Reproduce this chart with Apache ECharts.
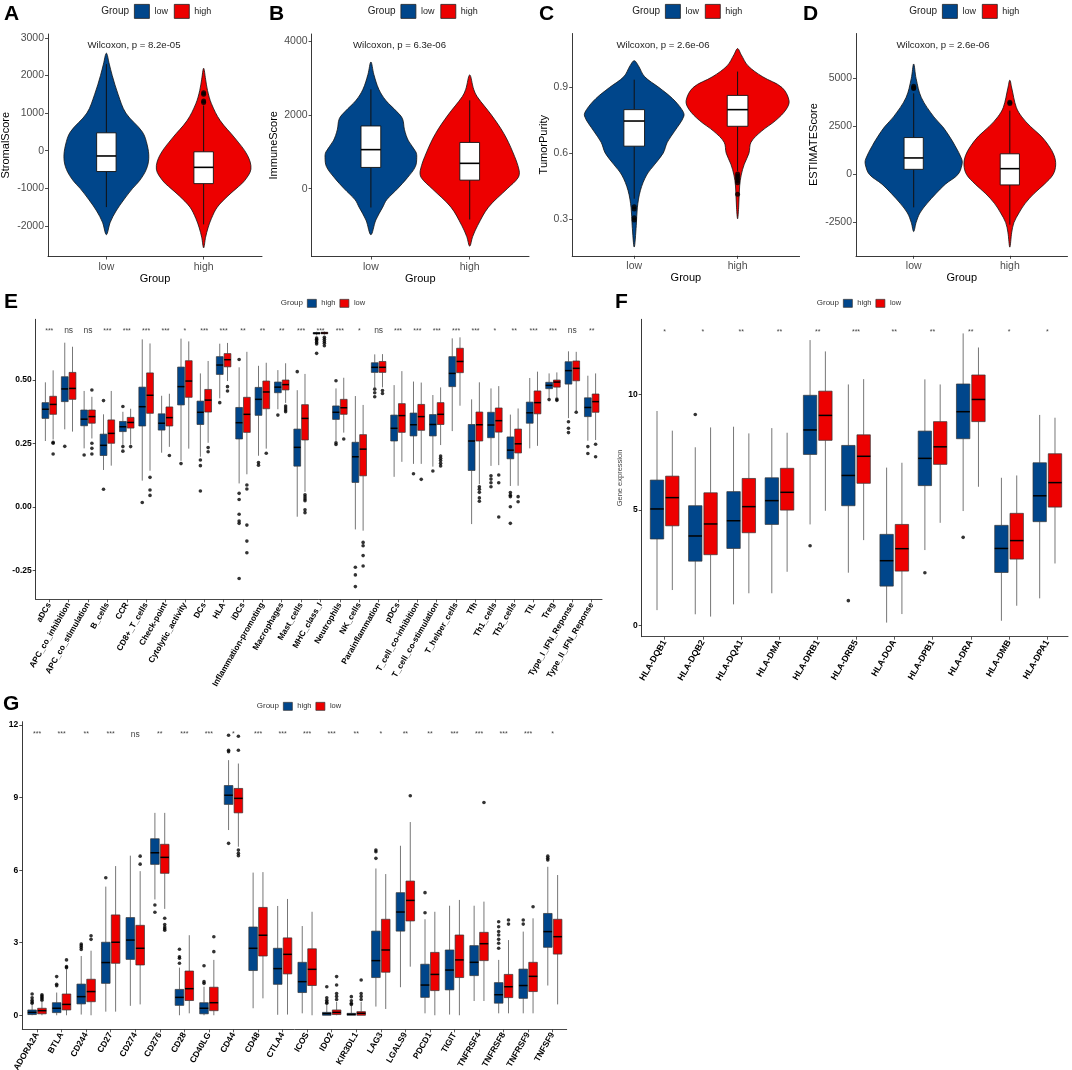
<!DOCTYPE html>
<html>
<head>
<meta charset="utf-8">
<script src="https://cdn.jsdelivr.net/npm/echarts@6/dist/echarts.min.js"></script>
<style>
  body { margin: 0; background: #fff; width: 1072px; height: 1070px; overflow: hidden; }
</style>
</head>
<body>
<script>
const FONT = '"Liberation Sans", Arial, Helvetica, sans-serif'
const BLUE = '#00468B'
const RED = '#ED0000'

// ---------- A-D violin data ----------
const violinGroups = ['low', 'high']

// density outline: [value, half width]
const stromalLowShape = [[2590, 0], [2300, 0.03], [2000, 0.06], [1500, 0.12], [1000, 0.2], [500, 0.37], [150, 0.42], [-200, 0.436], [-500, 0.41], [-800, 0.34], [-1000, 0.27], [-1300, 0.18], [-1600, 0.1], [-1900, 0.04], [-2230, 0]]
const stromalHighShape = [[2190, 0], [1900, 0.02], [1600, 0.04], [1250, 0.08], [800, 0.17], [340, 0.32], [-120, 0.45], [-490, 0.486], [-800, 0.42], [-950, 0.36], [-1200, 0.25], [-1500, 0.14], [-1800, 0.08], [-2050, 0.045], [-2300, 0.02], [-2580, 0]]
const stromalBox = [[-1498, -553, -140, 475, 2300], [-1957, -874, -442, -29, 1200]]
const stromalOut = [[], [1540, 1500, 1320, 1280]]

const immuneLowShape = [[3440, 0], [3100, 0.03], [2700, 0.08], [2400, 0.15], [2100, 0.26], [1900, 0.32], [1600, 0.34], [1300, 0.38], [1000, 0.455], [850, 0.464], [600, 0.45], [300, 0.37], [0, 0.27], [-300, 0.16], [-500, 0.12], [-850, 0.05], [-1250, 0]]
const immuneHighShape = [[3090, 0], [2700, 0.04], [2500, 0.075], [2000, 0.22], [1500, 0.345], [1000, 0.435], [500, 0.5], [300, 0.49], [0, 0.38], [-500, 0.19], [-1000, 0.08], [-1300, 0.03], [-1560, 0]]
const immuneBox = [[-510, 578, 1061, 1703, 2698], [-836, 233, 689, 1256, 2400]]
const immuneOut = [[], []]

const purityLowShape = [[1.023, 0], [1.0, 0.04], [0.95, 0.1], [0.9, 0.24], [0.85, 0.37], [0.8, 0.46], [0.77, 0.481], [0.7, 0.39], [0.65, 0.32], [0.6, 0.28], [0.55, 0.2], [0.5, 0.12], [0.43, 0.06], [0.35, 0.03], [0.27, 0.02], [0.171, 0]]
const purityHighShape = [[1.078, 0], [1.05, 0.035], [1.0, 0.1], [0.95, 0.24], [0.9, 0.43], [0.84, 0.498], [0.8, 0.47], [0.75, 0.37], [0.7, 0.23], [0.65, 0.13], [0.6, 0.11], [0.55, 0.065], [0.5, 0.035], [0.45, 0.02], [0.35, 0.01], [0.3, 0]]
const purityBox = [[0.392, 0.632, 0.747, 0.799, 0.936], [0.518, 0.723, 0.799, 0.864, 0.973]]
const purityOut = [[0.355, 0.345, 0.305, 0.295], [0.505, 0.495, 0.485, 0.475, 0.465, 0.412]]

const estimateLowShape = [[5755, 0], [5000, 0.025], [4000, 0.08], [3000, 0.21], [2500, 0.3], [2000, 0.37], [1500, 0.43], [800, 0.5], [500, 0.502], [0, 0.46], [-500, 0.33], [-1000, 0.23], [-1500, 0.14], [-2000, 0.065], [-2500, 0.025], [-2970, 0]]
const estimateHighShape = [[4910, 0], [4500, 0.02], [3500, 0.067], [3000, 0.125], [2500, 0.215], [2000, 0.325], [1500, 0.405], [1000, 0.46], [500, 0.477], [0, 0.45], [-500, 0.36], [-1000, 0.25], [-1500, 0.16], [-2000, 0.095], [-2500, 0.043], [-3000, 0.02], [-3780, 0]]
const estimateBox = [[-1710, 270, 863, 1924, 4226], [-2610, -541, 305, 1078, 3327]]
const estimateOut = [[4600, 4520, 4480], [3760, 3700]]

const stromalTicks = [-2000, -1000, 0, 1000, 2000, 3000]
const immuneTicks = [0, 2000, 4000]
const purityTicks = [0.3, 0.6, 0.9]
const estimateTicks = [-2500, 0, 2500, 5000]

// ---------- E immune cell enrichment ----------
const eCats = ['aDCs', 'APC_co_inhibition', 'APC_co_stimulation', 'B_cells', 'CCR', 'CD8+_T_cells', 'Check-point', 'Cytolytic_activity', 'DCs', 'HLA', 'iDCs', 'Inflammation-promoting', 'Macrophages', 'Mast_cells', 'MHC_class_I', 'Neutrophils', 'NK_cells', 'Parainflammation', 'pDCs', 'T_cell_co-inhibition', 'T_cell_co-stimulation', 'T_helper_cells', 'Tfh', 'Th1_cells', 'Th2_cells', 'TIL', 'Treg', 'Type_I_IFN_Reponse', 'Type_II_IFN_Reponse']
// [lower whisker, Q1, median, Q3, upper whisker]
const eHigh = [
  [0.26, 0.349, 0.385, 0.411, 0.491], [0.306, 0.415, 0.465, 0.513, 0.647], [0.231, 0.32, 0.346, 0.382, 0.457], [0.146, 0.203, 0.243, 0.287, 0.365],
  [0.245, 0.297, 0.316, 0.337, 0.375], [0.104, 0.319, 0.395, 0.472, 0.66], [0.214, 0.303, 0.33, 0.367, 0.438], [0.182, 0.402, 0.474, 0.551, 0.663],
  [0.198, 0.325, 0.373, 0.417, 0.526], [0.428, 0.522, 0.559, 0.592, 0.643], [0.093, 0.268, 0.332, 0.392, 0.55], [0.202, 0.361, 0.424, 0.471, 0.556],
  [0.385, 0.45, 0.472, 0.492, 0.539], [-0.038, 0.161, 0.235, 0.307, 0.46], [0.676, 0.681, 0.684, 0.687, 0.69], [0.26, 0.345, 0.373, 0.398, 0.467],
  [-0.088, 0.097, 0.198, 0.255, 0.437], [0.471, 0.53, 0.55, 0.568, 0.601], [0.119, 0.26, 0.31, 0.362, 0.48], [0.17, 0.28, 0.324, 0.37, 0.494],
  [0.159, 0.28, 0.325, 0.364, 0.441], [0.299, 0.474, 0.526, 0.592, 0.664], [-0.067, 0.144, 0.26, 0.325, 0.424], [0.162, 0.273, 0.323, 0.373, 0.467],
  [0.083, 0.19, 0.224, 0.276, 0.364], [0.231, 0.33, 0.371, 0.413, 0.508], [0.428, 0.466, 0.479, 0.491, 0.526], [0.35, 0.484, 0.537, 0.572, 0.613],
  [0.261, 0.356, 0.392, 0.43, 0.517],
]
const eLow = [
  [0.266, 0.365, 0.404, 0.436, 0.538], [0.297, 0.424, 0.467, 0.53, 0.631], [0.27, 0.33, 0.356, 0.382, 0.434], [0.163, 0.251, 0.29, 0.343, 0.457],
  [0.246, 0.311, 0.333, 0.353, 0.387], [0.143, 0.369, 0.44, 0.528, 0.644], [0.237, 0.319, 0.352, 0.394, 0.446], [0.23, 0.432, 0.496, 0.576, 0.652],
  [0.253, 0.374, 0.421, 0.463, 0.575], [0.496, 0.552, 0.58, 0.604, 0.646], [0.129, 0.294, 0.365, 0.432, 0.611], [0.23, 0.387, 0.453, 0.496, 0.568],
  [0.41, 0.461, 0.482, 0.5, 0.566], [0.06, 0.264, 0.349, 0.403, 0.524], [0.678, 0.682, 0.685, 0.688, 0.691], [0.293, 0.365, 0.391, 0.424, 0.509],
  [-0.093, 0.123, 0.228, 0.285, 0.402], [0.471, 0.53, 0.55, 0.573, 0.602], [0.178, 0.294, 0.36, 0.407, 0.535], [0.17, 0.302, 0.356, 0.404, 0.49],
  [0.244, 0.325, 0.365, 0.411, 0.471], [0.399, 0.529, 0.573, 0.625, 0.668], [0.09, 0.26, 0.324, 0.374, 0.491], [0.165, 0.295, 0.34, 0.39, 0.476],
  [0.084, 0.213, 0.249, 0.307, 0.388], [0.241, 0.367, 0.411, 0.457, 0.533], [0.432, 0.472, 0.492, 0.5, 0.53], [0.376, 0.497, 0.546, 0.575, 0.611],
  [0.264, 0.373, 0.415, 0.445, 0.526],
]
// [category index, value]
const eHighOut = [[1, 0.239], [2, 0.205], [3, 0.419], [3, 0.07], [4, 0.396], [4, 0.238], [4, 0.22], [5, 0.018], [7, 0.171], [8, 0.185], [8, 0.163], [8, 0.063], [9, 0.411],
  [10, 0.581], [10, 0.054], [10, 0.03], [10, -0.028], [10, -0.055], [10, -0.064], [10, -0.281], [11, 0.175], [11, 0.165], [12, 0.362], [13, 0.533],
  [14, 0.665], [14, 0.66], [14, 0.655], [14, 0.648], [14, 0.642], [14, 0.605], [15, 0.497], [15, 0.253], [15, 0.246], [16, -0.237], [16, -0.267], [16, -0.313],
  [17, 0.464], [17, 0.45], [17, 0.434], [19, 0.131], [20, 0.142], [23, 0.123], [23, 0.11], [23, 0.096], [23, 0.08], [24, 0.057], [24, 0.047], [24, 0.041],
  [24, 0.001], [24, -0.064], [26, 0.423], [27, 0.336], [27, 0.31], [27, 0.293], [28, 0.238], [28, 0.211]]
const eLowOut = [[0, 0.255], [0, 0.251], [0, 0.209], [2, 0.461], [2, 0.251], [2, 0.231], [2, 0.209], [4, 0.238], [5, 0.117], [5, 0.067], [5, 0.046], [6, 0.203],
  [8, 0.234], [8, 0.218], [9, 0.474], [9, 0.457], [10, 0.087], [10, 0.071], [10, -0.071], [10, -0.134], [10, -0.18], [11, 0.212], [12, 0.398], [12, 0.39],
  [12, 0.382], [12, 0.375], [13, 0.048], [13, 0.04], [13, 0.032], [13, 0.025], [13, -0.011], [13, -0.022], [14, 0.668], [14, 0.66], [14, 0.652], [14, 0.645],
  [14, 0.635], [15, 0.268], [16, -0.139], [16, -0.152], [16, -0.191], [16, -0.232], [17, 0.459], [17, 0.447], [19, 0.109], [20, 0.201], [20, 0.192],
  [20, 0.183], [20, 0.172], [20, 0.162], [22, 0.08], [22, 0.07], [22, 0.058], [22, 0.036], [22, 0.023], [23, 0.126], [23, 0.096], [23, -0.039],
  [24, 0.041], [24, 0.021], [26, 0.425], [26, 0.42], [27, 0.373], [28, 0.247], [28, 0.198]]
const eSig = ['***', 'ns', 'ns', '***', '***', '***', '***', '*', '***', '***', '**', '**', '**', '***', '***', '***', '*', 'ns', '***', '***', '***', '***', '***', '*', '**', '***', '***', 'ns', '**']
const eTicks = [-0.25, 0, 0.25, 0.5]

// ---------- F HLA genes ----------
const fCats = ['HLA-DQB1', 'HLA-DQB2', 'HLA-DQA1', 'HLA-DMA', 'HLA-DRB1', 'HLA-DRB5', 'HLA-DOA', 'HLA-DPB1', 'HLA-DRA', 'HLA-DMB', 'HLA-DPA1']
const fHigh = [[0.66, 3.74, 5.04, 6.29, 9.28], [0.48, 2.78, 3.87, 5.18, 7.71], [0.91, 3.33, 4.53, 5.79, 8.6], [1.39, 4.37, 5.4, 6.39, 8.54],
  [4.37, 7.4, 8.46, 9.96, 12.35], [2.28, 5.18, 6.49, 7.79, 10.43], [0.12, 1.7, 2.8, 3.94, 6.83], [3.26, 6.05, 7.23, 8.41, 10.65],
  [4.95, 8.08, 9.25, 10.45, 12.64], [0.2, 2.29, 3.33, 4.33, 6.39], [1.17, 4.49, 5.61, 7.04, 9.11]]
const fLow = [[1.53, 4.31, 5.53, 6.46, 8.43], [0.38, 3.06, 4.39, 5.74, 8.57], [1.39, 4.01, 5.14, 6.36, 8.31], [2.32, 4.99, 5.76, 6.8, 8.34],
  [4.96, 8.01, 9.09, 10.14, 11.86], [3.69, 6.15, 7.32, 8.25, 10.66], [0.49, 2.35, 3.32, 4.37, 7.04], [4.44, 6.97, 7.73, 8.82, 10.43],
  [6.0, 8.82, 9.78, 10.84, 12.03], [0.85, 2.87, 3.67, 4.85, 6.49], [2.68, 5.12, 6.18, 7.43, 8.99]]
const fHighOut = [[1, 9.13], [4, 3.45], [5, 1.07], [7, 2.28], [8, 3.81]]
const fLowOut = []
const fSig = ['*', '*', '**', '**', '**', '***', '**', '**', '**', '*', '*']
const fTicks = [0, 5, 10]

// ---------- G immune checkpoint genes ----------
const gCats = ['ADORA2A', 'BTLA', 'CD244', 'CD27', 'CD274', 'CD276', 'CD28', 'CD40LG', 'CD44', 'CD48', 'CTLA4', 'ICOS', 'IDO2', 'KIR3DL1', 'LAG3', 'LGALS9', 'PDCD1', 'TIGIT', 'TNFRSF4', 'TNFRSF8', 'TNFRSF9', 'TNFSF9']
const gHigh = [[0, 0.03, 0.12, 0.22, 0.45], [0, 0.11, 0.29, 0.52, 0.94], [0.03, 0.47, 0.77, 1.29, 2.45], [0.15, 1.32, 2.18, 3.02, 5.32],
  [0.39, 2.31, 3.11, 4.04, 6.6], [4.79, 6.24, 6.72, 7.3, 8.37], [0, 0.41, 0.74, 1.07, 1.97], [0, 0.06, 0.29, 0.52, 1.18],
  [7.66, 8.72, 9.1, 9.5, 10.55], [0.29, 1.85, 2.77, 3.65, 5.9], [0.02, 1.28, 1.93, 2.77, 4.52], [0.08, 0.94, 1.39, 2.19, 3.69],
  [0, 0, 0.07, 0.12, 0.45], [0, 0, 0.04, 0.08, 0.4], [0.36, 1.56, 2.26, 3.48, 6.07], [1.16, 3.48, 4.27, 5.07, 7.01],
  [0.08, 0.74, 1.25, 2.11, 3.97], [0.03, 1.05, 1.87, 2.7, 4.53], [0.59, 1.64, 2.19, 2.88, 4.53], [0.08, 0.5, 0.85, 1.35, 2.29],
  [0.08, 0.7, 1.23, 1.91, 3.46], [1.23, 2.81, 3.46, 4.21, 6.14]]
const gLow = [[0, 0.06, 0.19, 0.29, 0.55], [0, 0.22, 0.45, 0.88, 1.9], [0, 0.56, 0.98, 1.49, 2.67], [0.15, 2.15, 3.02, 4.15, 6.17],
  [0.45, 2.08, 2.77, 3.72, 5.96], [4.4, 5.87, 6.53, 7.07, 8.37], [0.08, 0.61, 1.1, 1.83, 3.31], [0, 0.19, 0.52, 1.16, 2.29],
  [6.97, 8.37, 8.97, 9.38, 10.41], [0.7, 2.45, 3.31, 4.46, 5.92], [0.03, 1.71, 2.52, 3.2, 4.81], [0, 1.23, 1.9, 2.75, 4.28],
  [0, 0.03, 0.12, 0.22, 0.55], [0, 0, 0.08, 0.15, 0.55], [0.26, 1.78, 2.7, 3.97, 5.84], [2.01, 3.9, 4.75, 5.55, 7.99],
  [0, 1.02, 1.69, 2.6, 4.28], [0, 1.56, 2.29, 3.32, 4.77], [0.59, 2.26, 2.96, 3.43, 4.7], [0.08, 0.73, 1.18, 1.69, 3.11],
  [0.08, 0.98, 1.61, 2.19, 4.01], [0.45, 2.53, 3.25, 3.97, 5.8]]
const gHighOut = [[0, 0.88], [0, 0.72], [0, 0.62], [0, 0.55], [0, 0.5], [1, 1.6], [1, 1.28], [1, 1.22], [2, 2.95], [2, 2.88], [2, 2.8], [2, 2.72],
  [3, 5.69], [5, 4.56], [5, 4.26], [6, 2.73], [6, 2.42], [6, 2.36], [6, 2.15], [7, 2.05], [7, 1.39], [7, 1.32], [8, 11.58], [8, 10.96], [8, 10.9],
  [8, 7.11], [12, 1.18], [12, 0.72], [12, 0.62], [12, 0.55], [12, 0.5], [13, 0.77], [13, 0.6], [13, 0.5], [13, 0.45], [14, 6.83], [14, 6.76],
  [14, 6.49], [16, 5.07], [16, 4.24], [19, 3.87], [19, 3.66], [19, 3.46], [19, 3.32], [19, 3.14], [19, 2.98], [19, 2.77], [20, 3.94], [20, 3.77],
  [21, 6.58], [21, 6.49], [21, 6.42]]
const gLowOut = [[0, 0.85], [0, 0.8], [0, 0.74], [0, 0.68], [0, 0.62], [1, 2.29], [1, 2.01], [1, 1.97], [2, 3.29], [2, 3.14], [4, 6.58], [4, 6.25],
  [5, 4.01], [5, 3.75], [5, 3.65], [5, 3.58], [5, 3.52], [7, 3.25], [7, 2.63], [8, 11.54], [8, 10.96], [8, 6.83], [8, 6.7], [8, 6.6], [12, 1.6],
  [12, 1.25], [12, 0.9], [12, 0.78], [12, 0.65], [13, 1.46], [13, 0.9], [13, 0.78], [13, 0.65], [15, 9.08], [18, 8.8], [19, 3.94], [19, 3.77], [20, 4.49]]
const gSig = ['***', '***', '**', '***', 'ns', '**', '***', '***', '*', '***', '***', '***', '***', '**', '*', '**', '**', '***', '***', '***', '***', '*']
const gTicks = [0, 3, 6, 9, 12]

// ---------- helpers ----------
function fullDiv(id) {
  const el = document.createElement('div')
  el.id = id
  el.style.cssText = 'position:absolute;left:0;top:0;width:1072px;height:1070px;'
  document.body.appendChild(el)
  return el
}

function plainText(text, x, y, style = {}) {
  return {
    type: 'text',
    x,
    y,
    style: {
      text,
      fontFamily: FONT,
      fontSize: 10,
      fill: '#222',
      textAlign: 'left',
      textVerticalAlign: 'middle',
      ...style,
    },
  }
}

function letterText(letter, x, y) {
  return plainText(letter, x, y, { fontSize: 21, fontWeight: 'bold', fill: '#000' })
}

// box + whiskers + median, data item: [x, lo, q1, med, q3, hi]
function boxRender(width, opt) {
  return (params, api) => {
    const x = api.value(0)
    const p = [1, 2, 3, 4, 5].map((d) => api.coord([x, api.value(d)]))
    const half = api.size([width, 0])[0] / 2
    const cx = p[0][0]
    const fill = opt.fill || api.visual('color')
    const line = { stroke: opt.whisker, lineWidth: opt.whiskerWidth }
    return {
      type: 'group',
      children: [
        { type: 'line', shape: { x1: cx, y1: p[0][1], x2: cx, y2: p[1][1] }, style: line },
        { type: 'line', shape: { x1: cx, y1: p[3][1], x2: cx, y2: p[4][1] }, style: line },
        {
          type: 'rect',
          shape: { x: cx - half, y: p[3][1], width: half * 2, height: p[1][1] - p[3][1] },
          style: { fill, stroke: opt.border, lineWidth: opt.borderWidth },
        },
        {
          type: 'line',
          shape: { x1: cx - half, y1: p[2][1], x2: cx + half, y2: p[2][1] },
          style: { stroke: '#000', lineWidth: opt.medianWidth },
        },
      ],
    }
  }
}

function violinRender(shape, x) {
  return (params, api) => {
    const right = shape.map(([v, w]) => api.coord([x + w, v]))
    const left = shape.slice(1, -1).reverse().map(([v, w]) => api.coord([x - w, v]))
    return {
      type: 'polygon',
      shape: { points: right.concat(left), smooth: 0.35 },
      style: { fill: api.visual('color'), stroke: '#111', lineWidth: 0.8 },
    }
  }
}

function valueYAxis(min, max, ticks, name, nameGap, label, nameStyle) {
  return {
    type: 'value',
    min,
    max,
    name,
    nameLocation: 'middle',
    nameGap,
    nameRotate: 90,
    nameTextStyle: { fontFamily: FONT, ...nameStyle },
    axisLine: { show: true, onZero: false, lineStyle: { color: '#222', width: 0.9 } },
    axisTick: { show: true, customValues: ticks, length: 3, lineStyle: { color: '#222', width: 0.8 } },
    axisLabel: { customValues: ticks, margin: 4, fontFamily: FONT, formatter: (v) => String(v), ...label },
    splitLine: { show: false },
  }
}

// ---------- violin panels (A-D) ----------
function violinPanel(id, cfg) {
  const chart = echarts.init(fullDiv(id), null, { renderer: 'canvas' })
  const [gx, gy, gw, gh] = cfg.rect
  const option = {
    backgroundColor: 'transparent',
    animation: false,
    textStyle: { fontFamily: FONT },
    grid: { left: gx, top: gy, width: gw, height: gh, outerBoundsMode: 'none' },
    legend: {
      left: cfg.legendX,
      top: 4,
      padding: 0,
      icon: 'rect',
      itemWidth: 15,
      itemHeight: 14,
      itemGap: 6,
      selectedMode: false,
      itemStyle: { borderColor: '#222', borderWidth: 0.8 },
      textStyle: { fontSize: 9, color: '#222', fontFamily: FONT },
      data: violinGroups,
    },
    graphic: [
      letterText(cfg.letter, cfg.letterX, 14),
      plainText('Group', cfg.legendX - 5, 11, { textAlign: 'right', fontSize: 10 }),
      plainText(cfg.p, cfg.pX, 45, { textAlign: 'center', fontSize: 9.6 }),
    ],
    xAxis: {
      type: 'value',
      min: -0.6,
      max: 1.6,
      name: 'Group',
      nameLocation: 'middle',
      nameGap: 17,
      nameTextStyle: { fontSize: 11, color: '#000', fontFamily: FONT },
      axisLine: { onZero: false, lineStyle: { color: '#222', width: 0.9 } },
      axisTick: { customValues: [0, 1], length: 3, lineStyle: { color: '#222', width: 0.8 } },
      axisLabel: {
        customValues: [0, 1],
        formatter: (v) => violinGroups[Math.round(v)],
        margin: 5,
        fontSize: 10.5,
        color: '#4D4D4D',
        fontFamily: FONT,
      },
      splitLine: { show: false },
    },
    yAxis: valueYAxis(cfg.yMin, cfg.yMax, cfg.ticks, cfg.yName, cfg.nameGap,
      { fontSize: 10.5, color: '#4D4D4D' }, { fontSize: 11, color: '#000' }),
    series: [
      { name: 'low', type: 'custom', itemStyle: { color: BLUE }, renderItem: violinRender(cfg.shapes[0], 0), data: [[0, 0]] },
      { name: 'high', type: 'custom', itemStyle: { color: RED }, renderItem: violinRender(cfg.shapes[1], 1), data: [[1, 0]] },
      {
        name: 'box',
        type: 'custom',
        renderItem: boxRender(0.2, { fill: '#fff', border: '#111', borderWidth: 0.9, whisker: '#111', whiskerWidth: 1, medianWidth: 1.6 }),
        data: cfg.boxes.map((b, i) => [i, ...b]),
        z: 3,
      },
      {
        name: 'outlier',
        type: 'scatter',
        symbolSize: 5,
        itemStyle: { color: '#000' },
        data: cfg.outliers.flatMap((list, i) => list.map((v) => [i, v])),
        z: 4,
      },
    ],
  }
  chart.setOption(option, true)
  return chart
}

// ---------- grouped box panels (E-G) ----------
function boxPanel(id, cfg) {
  const chart = echarts.init(fullDiv(id), null, { renderer: 'canvas' })
  const [gx, gy, gw, gh] = cfg.rect
  const idx = cfg.cats.map((_, i) => i)
  const boxOpt = { border: '#333', borderWidth: 0.7, whisker: '#777', whiskerWidth: 1, medianWidth: 1.5 }
  const option = {
    backgroundColor: 'transparent',
    animation: false,
    textStyle: { fontFamily: FONT },
    grid: { left: gx, top: gy, width: gw, height: gh, outerBoundsMode: 'none' },
    legend: {
      left: cfg.legendX,
      top: cfg.legendY - 4,
      padding: 0,
      icon: 'rect',
      itemWidth: 9,
      itemHeight: 8,
      itemGap: 4,
      selectedMode: false,
      itemStyle: { borderColor: '#333', borderWidth: 0.7 },
      textStyle: { fontSize: 7.5, color: '#333', fontFamily: FONT },
      data: ['high', 'low'],
    },
    graphic: [
      letterText(cfg.letter, cfg.letterX, cfg.letterY),
      plainText('Group', cfg.legendX - 4, cfg.legendY, { textAlign: 'right', fontSize: 8, fill: '#333' }),
    ],
    xAxis: {
      type: 'value',
      min: cfg.xMin,
      max: cfg.xMax,
      axisLine: { onZero: false, lineStyle: { color: '#333', width: 0.9 } },
      axisTick: { customValues: idx, length: 3, lineStyle: { color: '#333', width: 0.8 } },
      axisLabel: {
        customValues: idx,
        formatter: (v) => cfg.cats[Math.round(v)],
        rotate: 60,
        margin: 4,
        fontSize: cfg.xFont,
        fontWeight: 'bold',
        color: '#000',
        fontFamily: FONT,
      },
      splitLine: { show: false },
    },
    yAxis: valueYAxis(cfg.yMin, cfg.yMax, cfg.ticks, cfg.yName, cfg.nameGap,
      { fontSize: 8.5, fontWeight: 'bold', color: '#000', formatter: cfg.tickFormat },
      { fontSize: 7.5, color: '#444' }),
    series: [
      {
        name: 'high',
        type: 'custom',
        itemStyle: { color: BLUE },
        renderItem: boxRender(0.35, boxOpt),
        data: cfg.high.map((b, i) => [i - 0.2, ...b]),
      },
      {
        name: 'low',
        type: 'custom',
        itemStyle: { color: RED },
        renderItem: boxRender(0.35, boxOpt),
        data: cfg.low.map((b, i) => [i + 0.2, ...b]),
      },
      {
        name: 'highOut',
        type: 'scatter',
        symbolSize: 3.6,
        itemStyle: { color: '#000' },
        data: cfg.highOut.map(([i, v]) => [i - 0.2, v]),
      },
      {
        name: 'lowOut',
        type: 'scatter',
        symbolSize: 3.6,
        itemStyle: { color: '#000' },
        data: cfg.lowOut.map(([i, v]) => [i + 0.2, v]),
      },
      {
        name: 'sig',
        type: 'custom',
        renderItem: (params, api) => {
          const pt = api.coord([api.value(0), api.value(1)])
          const s = cfg.sig[params.dataIndex]
          return {
            type: 'text',
            x: pt[0],
            y: pt[1],
            style: {
              text: s,
              fontFamily: FONT,
              fontSize: s === 'ns' ? 8.5 : 7,
              fill: '#444',
              textAlign: 'center',
              textVerticalAlign: 'middle',
            },
          }
        },
        data: cfg.sig.map((s, i) => [i, cfg.sigLevel]),
      },
    ],
  }
  chart.setOption(option, true)
  return chart
}

violinPanel('panelA', {
  letter: 'A', letterX: 4, rect: [48, 34, 214, 222.5], yMin: -2810, yMax: 3100, ticks: stromalTicks,
  yName: 'StromalScore', nameGap: 37, p: 'Wilcoxon, p = 8.2e-05', pX: 134, legendX: 134,
  shapes: [stromalLowShape, stromalHighShape], boxes: stromalBox, outliers: stromalOut,
})
violinPanel('panelB', {
  letter: 'B', letterX: 269, rect: [311.6, 34, 217.4, 222.5], yMin: -1840, yMax: 4200, ticks: immuneTicks,
  yName: 'ImmuneScore', nameGap: 32, p: 'Wilcoxon, p = 6.3e-06', pX: 399.5, legendX: 400.5,
  shapes: [immuneLowShape, immuneHighShape], boxes: immuneBox, outliers: immuneOut,
})
violinPanel('panelC', {
  letter: 'C', letterX: 539, rect: [572.2, 33.5, 227.4, 222.3], yMin: 0.131, yMax: 1.147, ticks: purityTicks,
  yName: 'TumorPurity', nameGap: 23, p: 'Wilcoxon, p = 2.6e-06', pX: 663, legendX: 665,
  shapes: [purityLowShape, purityHighShape], boxes: purityBox, outliers: purityOut,
})
violinPanel('panelD', {
  letter: 'D', letterX: 803, rect: [856, 33.5, 211.5, 222.3], yMin: -4230, yMax: 7340, ticks: estimateTicks,
  yName: 'ESTIMATEScore', nameGap: 37, p: 'Wilcoxon, p = 2.6e-06', pX: 943, legendX: 942,
  shapes: [estimateLowShape, estimateHighShape], boxes: estimateBox, outliers: estimateOut,
})

boxPanel('panelE', {
  letter: 'E', letterX: 4, letterY: 302, rect: [35.7, 319.3, 566.3, 280], xMin: -0.7, xMax: 28.53,
  yMin: -0.363, yMax: 0.739, ticks: eTicks, tickFormat: (v) => v.toFixed(2), yName: 'Enrichment levels', nameGap: 26,
  legendX: 307, legendY: 303, xFont: 8.3, cats: eCats, high: eHigh, low: eLow, highOut: eHighOut, lowOut: eLowOut,
  sig: eSig, sigLevel: 0.693,
})
boxPanel('panelF', {
  letter: 'F', letterX: 615, letterY: 302, rect: [641.7, 319.3, 426.3, 317.4], xMin: -0.6, xMax: 10.54,
  yMin: -0.49, yMax: 13.25, ticks: fTicks, tickFormat: (v) => String(v), yName: 'Gene expression', nameGap: 15,
  legendX: 843, legendY: 303, xFont: 8.8, cats: fCats, high: fHigh, low: fLow, highOut: fHighOut, lowOut: fLowOut,
  sig: fSig, sigLevel: 12.71,
})
boxPanel('panelG', {
  letter: 'G', letterX: 3, letterY: 704, rect: [22.3, 721.7, 544.4, 307.6], xMin: -0.6, xMax: 21.57,
  yMin: -0.58, yMax: 12.14, ticks: gTicks, tickFormat: (v) => String(v), yName: 'Gene expression', nameGap: 14,
  legendX: 283, legendY: 706, xFont: 8.5, cats: gCats, high: gHigh, low: gLow, highOut: gHighOut, lowOut: gLowOut,
  sig: gSig, sigLevel: 11.62,
})
</script>
</body>
</html>
